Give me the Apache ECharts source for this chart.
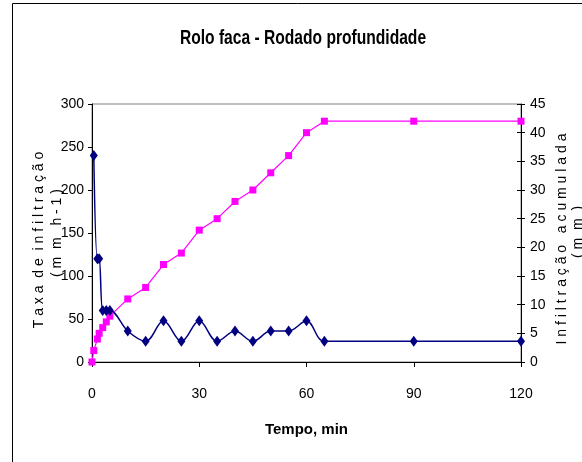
<!DOCTYPE html>
<html>
<head>
<meta charset="utf-8">
<script src="https://cdn.jsdelivr.net/npm/echarts@6/dist/echarts.min.js"></script>
<style>
html,body{margin:0;padding:0;background:#fff;}
#c{width:582px;height:462px;}
</style>
</head>
<body>
<div id="c"></div>
<script>
// Data
var rateTimes = [0.5, 1.5, 2, 3, 4, 5, 10, 15, 20, 25, 30, 35, 40, 45, 50, 55, 60, 65, 90, 120];
var rateValues = [240, 120, 120, 60, 60, 60, 36, 24, 48, 24, 48, 24, 36, 24, 36, 36, 48, 24, 24, 24];
var cumTimes = [0, 0.5, 1.5, 2, 3, 4, 5, 10, 15, 20, 25, 30, 35, 40, 45, 50, 55, 60, 65, 90, 120];
var cumValues = [0, 2, 4, 5, 6, 7, 8, 11, 13, 17, 19, 23, 25, 28, 30, 33, 36, 40, 42, 42, 42];
var xTicks = [0, 30, 60, 90, 120];
var leftTicks = [0, 50, 100, 150, 200, 250, 300];
var rightTicks = [0, 5, 10, 15, 20, 25, 30, 35, 40, 45];
var titleText = 'Rolo faca - Rodado profundidade';
var xName = 'Tempo, min';
var leftName1 = 'T a x a  d e  i n f i l t r a ç ã o';
var leftName2 = '( m  m   h - 1 )';
var rightName1 = 'I n f i l t r a ç ã o   a c u m u l a d a';
var rightName2 = '( m  m  )';

function pairs(xs, ys){ return xs.map(function(x,i){ return [x, ys[i]]; }); }

var SANS = '"Liberation Sans", Arial, sans-serif';
var lbl = {color:'#000', fontFamily: SANS, fontSize: 14};

var chart = echarts.init(document.getElementById('c'), null, {renderer:'canvas'});
chart.setOption({
  backgroundColor: '#fff',
  animation: false,
  grid: {left: 92, right: 61, top: 104, bottom: 100, show: true, borderColor: '#808080', borderWidth: 1, backgroundColor: '#fff'},
  xAxis: {
    type: 'value', min: xTicks[0], max: xTicks[xTicks.length-1], interval: 30,
    axisLine: {lineStyle: {color:'#000', width: 1}},
    axisTick: {show: true, length: 5, lineStyle:{color:'#000'}},
    axisLabel: Object.assign({margin: 25}, lbl),
    splitLine: {show: false},
    name: xName, nameLocation: 'middle', nameGap: 60,
    nameTextStyle: {fontFamily: SANS, fontSize: 15, fontWeight: 'bold', color:'#000'}
  },
  yAxis: [
    {
      type: 'value', position: 'left', min: leftTicks[0], max: leftTicks[leftTicks.length-1], interval: 50,
      axisLine: {show: true, lineStyle: {color:'#000'}},
      axisTick: {show: true, length: 4, lineStyle:{color:'#000'}},
      axisLabel: Object.assign({margin: 8}, lbl),
      splitLine: {show: false}
    },
    {
      type: 'value', position: 'right', min: rightTicks[0], max: rightTicks[rightTicks.length-1], interval: 5,
      axisLine: {show: true, lineStyle: {color:'#000'}},
      axisTick: {show: true, length: 4, lineStyle:{color:'#000'}},
      axisLabel: Object.assign({margin: 9}, lbl),
      splitLine: {show: false}
    },
    {
      type: 'value', position: 'right', min: rightTicks[0], max: rightTicks[rightTicks.length-1], interval: 5,
      axisLine: {show: false},
      axisTick: {show: true, inside: true, length: 4, lineStyle:{color:'#000'}},
      axisLabel: {show: false},
      splitLine: {show: false}
    }
  ],
  series: [
    {
      name: 'acumulada', type: 'line', yAxisIndex: 1, data: pairs(cumTimes, cumValues),
      symbol: 'rect', symbolSize: 7, clip: false,
      lineStyle: {color: '#FF00FF', width: 1.2},
      itemStyle: {color: '#FF00FF'}
    },
    {
      name: 'taxa', type: 'line', yAxisIndex: 0, data: pairs(rateTimes, rateValues),
      smooth: 0.35, symbol: 'diamond', symbolSize: [8, 11], clip: false,
      lineStyle: {color: '#000080', width: 1.5},
      itemStyle: {color: '#000080'}
    }
  ],
  graphic: [
    {type: 'polyline', shape: {points: [[12.5, 470], [12.5, 3.5], [600, 3.5]]}, style: {stroke: '#000', lineWidth: 1, fill: null}, silent: true},
    {type: 'text', x: 303, y: 38, scaleX: 0.78,
     style: {text: titleText, textAlign: 'center', textVerticalAlign: 'middle', fontFamily: SANS, fontSize: 20, fontWeight: 'bold', fill: '#000'}},
    {type: 'text', x: 39, y: 240, rotation: Math.PI/2,
     style: {text: leftName1, textAlign: 'center', textVerticalAlign: 'middle', fontFamily: SANS, fontSize: 14, fill: '#000'}},
    {type: 'text', x: 57, y: 233, rotation: Math.PI/2,
     style: {text: leftName2, textAlign: 'center', textVerticalAlign: 'middle', fontFamily: SANS, fontSize: 14, fill: '#000'}},
    {type: 'text', x: 562, y: 239, rotation: Math.PI/2,
     style: {text: rightName1, textAlign: 'center', textVerticalAlign: 'middle', fontFamily: SANS, fontSize: 14, fill: '#000'}},
    {type: 'text', x: 578, y: 232, rotation: Math.PI/2,
     style: {text: rightName2, textAlign: 'center', textVerticalAlign: 'middle', fontFamily: SANS, fontSize: 14, fill: '#000'}}
  ]
});
</script>
</body>
</html>
